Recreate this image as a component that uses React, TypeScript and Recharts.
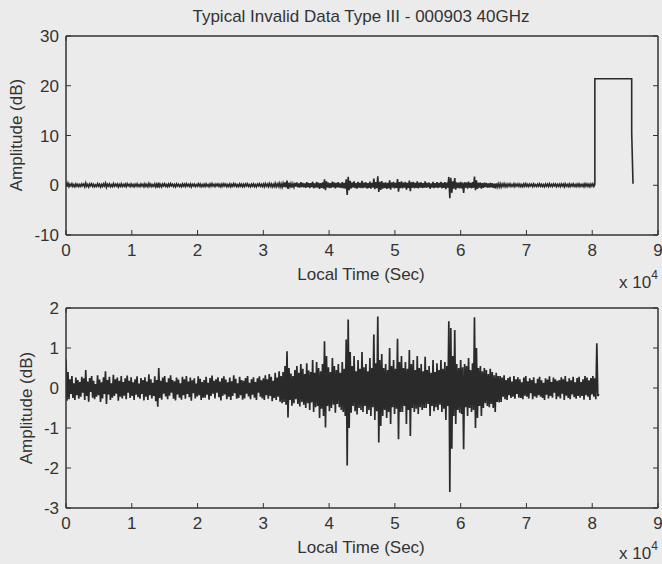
import { LineChart, Line, XAxis, YAxis } from 'recharts';

// sample spacing of the amplitude record, in seconds
const T_STEP = 150;

// amplitude (dB), one value per sample (20 samples per row)
const AMP_DB = [
  0.72, -0.32, 0.40, -0.28, 0.22, -0.15, 0.30, -0.25, 0.12, -0.30, 0.26, -0.18, 0.20, -0.27, 0.15, -0.22, 0.28, -0.12, 0.24, -0.30,
  0.45, -0.20, 0.16, -0.34, 0.25, -0.10, 0.30, -0.24, 0.18, -0.28, 0.10, -0.22, 0.32, -0.18, 0.21, -0.35, 0.14, -0.26, 0.27, -0.15,
  0.42, -0.40, 0.20, -0.16, 0.28, -0.30, 0.12, -0.24, 0.33, -0.20, 0.22, -0.14, 0.26, -0.32, 0.18, -0.22, 0.30, -0.26, 0.15, -0.19,
  0.24, -0.28, 0.31, -0.12, 0.18, -0.25, 0.27, -0.20, 0.14, -0.30, 0.22, -0.17, 0.29, -0.23, 0.11, -0.27, 0.25, -0.15, 0.20, -0.31,
  0.27, -0.22, 0.16, -0.30, 0.34, -0.18, 0.22, -0.26, 0.13, -0.20, 0.29, -0.33, 0.20, -0.47, 0.50, -0.25, 0.18, -0.29, 0.26, -0.14,
  0.30, -0.21, 0.14, -0.28, 0.24, -0.19, 0.32, -0.12, 0.20, -0.27, 0.17, -0.31, 0.26, -0.16, 0.21, -0.24, 0.12, -0.29, 0.28, -0.18,
  0.22, -0.27, 0.30, -0.15, 0.16, -0.23, 0.26, -0.32, 0.19, -0.13, 0.24, -0.26, 0.11, -0.21, 0.29, -0.18, 0.23, -0.30, 0.15, -0.24,
  0.20, -0.24, 0.28, -0.17, 0.13, -0.29, 0.25, -0.20, 0.31, -0.14, 0.18, -0.26, 0.22, -0.12, 0.27, -0.23, 0.16, -0.31, 0.24, -0.19,
  0.29, -0.16, 0.21, -0.28, 0.14, -0.22, 0.26, -0.30, 0.17, -0.20, 0.32, -0.13, 0.23, -0.27, 0.12, -0.25, 0.28, -0.18, 0.20, -0.29,
  0.18, -0.26, 0.25, -0.14, 0.30, -0.21, 0.13, -0.28, 0.22, -0.17, 0.27, -0.24, 0.15, -0.30, 0.24, -0.12, 0.29, -0.22, 0.19, -0.26,
  0.24, -0.30, 0.32, -0.18, 0.22, -0.27, 0.35, -0.20, 0.28, -0.33, 0.18, -0.25, 0.38, -0.30, 0.26, -0.22, 0.42, -0.34, 0.30, -0.38,
  0.40, -0.35, 0.55, -0.42, 0.92, -0.74, 0.50, -0.30, 0.36, -0.44, 0.30, -0.38, 0.45, -0.28, 0.55, -0.40, 0.38, -0.46, 0.60, -0.35,
  0.48, -0.42, 0.35, -0.50, 0.62, -0.38, 0.44, -0.55, 0.40, -0.36, 0.70, -0.60, 0.38, -0.48, 0.65, -0.45, 0.50, -0.75, 0.42, -0.52,
  0.60, -0.70, 1.17, -0.99, 0.80, -0.45, 0.52, -0.58, 0.40, -0.50, 0.75, -0.42, 0.55, -0.62, 0.45, -0.40, 0.60, -0.48, 0.38, -0.55,
  0.65, -0.60, 0.48, -0.70, 1.21, -1.94, 1.71, -1.00, 0.90, -0.62, 0.55, -0.45, 0.80, -0.58, 0.42, -0.66, 0.70, -0.50, 0.48, -0.55,
  0.90, -0.60, 0.52, -0.45, 0.60, -0.65, 0.42, -0.55, 0.75, -0.70, 0.50, -0.48, 1.34, -0.80, 0.62, -0.58, 1.79, -1.36, 0.70, -0.95,
  0.85, -0.70, 0.50, -0.55, 0.60, -0.75, 0.45, -0.60, 1.00, -0.90, 0.55, -0.48, 0.70, -0.65, 0.48, -0.52, 1.23, -1.28, 0.65, -0.60,
  0.80, -0.60, 0.50, -0.45, 0.65, -0.90, 0.48, -0.55, 0.95, -1.20, 0.60, -0.50, 0.70, -0.60, 0.45, -0.52, 0.80, -0.65, 0.50, -0.48,
  0.60, -0.55, 0.42, -0.50, 0.78, -0.50, 0.45, -0.40, 0.55, -0.70, 0.38, -0.45, 0.70, -0.58, 0.40, -0.48, 0.62, -0.55, 0.45, -0.42,
  0.70, -0.60, 0.48, -0.52, 0.65, -0.80, 0.55, -0.45, 1.67, -2.60, 1.50, -1.52, 0.80, -0.70, 1.45, -0.90, 0.60, -0.55, 0.50, -0.62,
  0.70, -0.65, 0.52, -1.53, 0.60, -0.48, 0.55, -0.70, 0.75, -0.50, 0.45, -0.60, 0.62, -0.55, 1.77, -1.00, 1.00, -0.75, 0.50, -0.45,
  0.55, -0.70, 0.42, -0.50, 0.50, -0.38, 0.45, -0.45, 0.35, -0.48, 0.48, -0.40, 0.40, -0.50, 0.32, -0.60, 0.38, -0.35, 0.30, -0.36,
  0.30, -0.35, 0.26, -0.22, 0.32, -0.28, 0.20, -0.30, 0.25, -0.18, 0.28, -0.25, 0.16, -0.22, 0.30, -0.27, 0.22, -0.15, 0.27, -0.24,
  0.22, -0.25, 0.14, -0.28, 0.26, -0.19, 0.30, -0.22, 0.17, -0.26, 0.24, -0.13, 0.20, -0.28, 0.27, -0.21, 0.12, -0.24, 0.23, -0.18,
  0.28, -0.22, 0.19, -0.25, 0.13, -0.30, 0.24, -0.17, 0.21, -0.26, 0.29, -0.20, 0.15, -0.24, 0.26, -0.12, 0.22, -0.28, 0.18, -0.21,
  0.20, -0.26, 0.27, -0.14, 0.22, -0.30, 0.30, -0.19, 0.16, -0.25, 0.24, -0.28, 0.19, -0.16, 0.28, -0.23, 0.14, -0.27, 0.25, -0.20,
  0.28, -0.24, 0.15, -0.20, 0.22, -0.29, 0.30, -0.18, 0.26, -0.22, 0.19, -0.30, 0.25, -0.16, 0.30, -0.22, 0.24, -0.28, 1.12, -0.20,
  -0.15,
];

// the invalid block at the end of the raw record (upper panel only)
const STEP_TIME = [80400, 80400, 86000, 86000, 86200];
const STEP_AMP = [0.2, 21.4, 21.4, 10.6, 0.3];

const X_TICKS = [0, 10000, 20000, 30000, 40000, 50000, 60000, 70000, 80000, 90000];
const TOP_Y_TICKS = [-10, 0, 10, 20, 30];
const BOT_Y_TICKS = [-3, -2, -1, 0, 1, 2];

const TITLE = 'Typical Invalid Data Type III - 000903 40GHz';
const X_LABEL = 'Local Time (Sec)';
const Y_LABEL = 'Amplitude (dB)';

const cleaned = AMP_DB.map((a, i) => ({ t: i * T_STEP, a }));
const raw = cleaned
  .filter((d) => d.t < STEP_TIME[0])
  .concat(STEP_TIME.map((t, i) => ({ t, a: STEP_AMP[i] })));

const INK = '#333';
const TRACE = '#2a2a2a';
const BG = '#ebebeb';
const FONT = "'Liberation Sans', Arial, sans-serif";
const TICK_LEN = 5;
const X_GAP = 8;
const Y_GAP = 7;

const BottomTick = (p: any) => {
  const top = p.y - X_GAP;
  return (
    <g>
      <line x1={p.x} x2={p.x} y1={top} y2={top - TICK_LEN} stroke={INK} />
      <text x={p.x} y={p.y} dy={13} textAnchor="middle" fontSize={17} fontFamily={FONT} fill={INK}>
        {p.payload.value / 10000}
      </text>
    </g>
  );
};

const TopTick = (p: any) => (
  <line x1={p.x} x2={p.x} y1={p.y} y2={p.y + TICK_LEN} stroke={INK} />
);

const LeftTick = (p: any) => {
  const ax = p.x + Y_GAP;
  return (
    <g>
      <line x1={ax} x2={ax + TICK_LEN} y1={p.y} y2={p.y} stroke={INK} />
      <text x={p.x} y={p.y} dy={6} textAnchor="end" fontSize={17} fontFamily={FONT} fill={INK}>
        {p.payload.value}
      </text>
    </g>
  );
};

const RightTick = (p: any) => (
  <line x1={p.x} x2={p.x - TICK_LEN} y1={p.y} y2={p.y} stroke={INK} />
);

function Panel({ data, domain, ticks, top, plotH, lineW }: any) {
  const axisLine = { stroke: INK, strokeWidth: 1.5 };
  return (
    <div style={{ position: 'absolute', left: 0, top }}>
      <LineChart width={662} height={36 + plotH + 40} data={data}
        margin={{ top: 35, right: 3, bottom: 10, left: 0 }}>
        <XAxis dataKey="t" type="number" domain={[0, 90000]} ticks={X_TICKS} interval={0}
          height={30} tickLine={false} tickSize={0} tickMargin={X_GAP} axisLine={axisLine}
          tick={BottomTick} allowDataOverflow />
        <XAxis xAxisId="top" orientation="top" type="number" domain={[0, 90000]} ticks={X_TICKS}
          interval={0} height={1} tickLine={false} tickSize={0} tickMargin={0} axisLine={axisLine}
          tick={TopTick} allowDataOverflow />
        <YAxis type="number" domain={domain} ticks={ticks} interval={0} width={66}
          tickLine={false} tickSize={0} tickMargin={Y_GAP} axisLine={axisLine}
          tick={LeftTick} allowDataOverflow />
        <YAxis yAxisId="right" orientation="right" type="number" domain={domain} ticks={ticks}
          interval={0} width={1} tickLine={false} tickSize={0} tickMargin={0} axisLine={axisLine}
          tick={RightTick} allowDataOverflow />
        <Line dataKey="a" type="linear" dot={false} stroke={TRACE} strokeWidth={lineW}
          isAnimationActive={false} />
      </LineChart>
    </div>
  );
}

export default function App() {
  return (
    <div style={{ position: 'absolute', left: 0, top: 0, width: 662, height: 564, background: BG, overflow: 'hidden' }}>
      <Panel data={raw} domain={[-10, 30]} ticks={TOP_Y_TICKS} top={0} plotH={199} lineW={1.6} />
      <Panel data={cleaned} domain={[-3, 2]} ticks={BOT_Y_TICKS} top={272} plotH={200} lineW={1.7} />
      <svg width={662} height={564} style={{ position: 'absolute', left: 0, top: 0, pointerEvents: 'none' }}
        fontFamily={FONT} fill={INK}>
        <text x={361} y={22} textAnchor="middle" fontSize={17}>{TITLE}</text>
        <text x={361} y={280} textAnchor="middle" fontSize={17}>{X_LABEL}</text>
        <text x={361} y={553} textAnchor="middle" fontSize={17}>{X_LABEL}</text>
        <text transform="translate(22,135) rotate(-90)" textAnchor="middle" fontSize={17}>{Y_LABEL}</text>
        <text transform="translate(32,408) rotate(-90)" textAnchor="middle" fontSize={17}>{Y_LABEL}</text>
        <text x={619} y={288} fontSize={17}>x 10<tspan dy={-9} fontSize={12}>4</tspan></text>
        <text x={619} y={559} fontSize={17}>x 10<tspan dy={-9} fontSize={12}>4</tspan></text>
      </svg>
    </div>
  );
}
